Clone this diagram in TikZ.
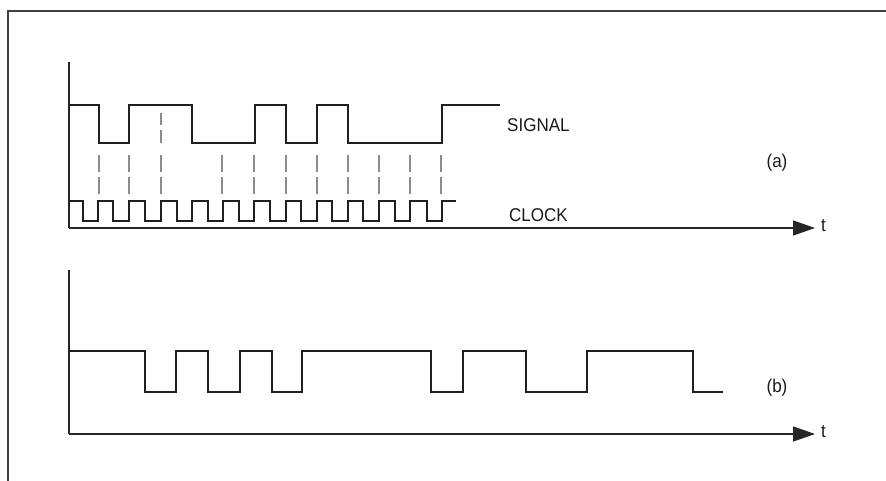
\documentclass[tikz,border=0pt]{standalone}
\usepackage{fontspec}
\setmainfont{Liberation Sans}
\usetikzlibrary{arrows.meta}
\tikzset{
  x=1pt, y=-1pt,
  frameline/.style={line width=1.8pt, draw=black!75},
  axisline/.style={line width=1.4pt, draw=black!85},
  axisarrow/.style={axisline, -{Triangle[length=22pt,width=15pt]}},
  wave/.style={line width=2.2pt, draw=black!88, line join=miter},
  guide/.style={line width=1.8pt, draw=black!45, dash pattern=on 17pt off 5pt},
  guidetop/.style={line width=1.8pt, draw=black!45, dash pattern=on 12.5pt off 5pt},
  lbl/.style={font=\fontsize{18.5}{20}\selectfont, inner sep=0pt, xscale=0.92, text=black!90}
}
\begin{document}
\begin{tikzpicture}
\useasboundingbox (0,0) rectangle (886,481);
\fill[white] (0,0) rectangle (886,481);
% frame
\coordinate (fbl) at (8,481);
\coordinate (ftl) at (8,11);
\coordinate (ftr) at (886,11);
\draw[frameline] (fbl) -- (ftl) -- (ftr);

% ---------- (a) ----------
\coordinate (aytop) at (69,62);
\coordinate (aorig) at (69,228);
\coordinate (atip) at (815,228);
\draw[axisline] (aytop) -- (aorig);
\draw[axisarrow] (aorig) -- (atip);
\node[lbl, anchor=west] (ta) at (821,226) {t};

% dashed guides
\foreach \gx in {99,129,161,222,254,286,317,348,379,410,441}{
  \draw[guide] (\gx,155) -- (\gx,195);
}
\draw[guidetop] (161,113) -- (161,143);

% signal
\draw[wave] (69,105)--(99,105)--(99,143)--(129,143)--(129,105)--(192,105)--(192,143)--(255,143)--(255,105)--(286,105)--(286,143)--(317,143)--(317,105)--(348,105)--(348,143)--(442,143)--(442,105)--(500,105);

% clock
\draw[wave] (69,201)
  \foreach \f/\r in {83/98,113/129,145/161,177/192,208/223,239/254,270/286,301/317,332/348,363/379,395/410,427/442}{
    --(\f,201)--(\f,221)--(\r,221)--(\r,201)
  } --(456,201);

\node[lbl, anchor=west] (sig) at (507,125) {SIGNAL};
\node[lbl, anchor=west] (clk) at (509,215) {CLOCK};
\node[lbl] (la) at (777,163) {(a)};

% ---------- (b) ----------
\coordinate (bytop) at (69,270);
\coordinate (borig) at (69,434);
\coordinate (btip) at (815,434);
\draw[axisline] (bytop) -- (borig);
\draw[axisarrow] (borig) -- (btip);
\node[lbl, anchor=west] (tb) at (821,432) {t};

\draw[wave] (69,351)--(145,351)--(145,392)--(176,392)--(176,351)--(208,351)--(208,392)--(240,392)--(240,351)--(272,351)--(272,392)--(302,392)--(302,351)--(431,351)--(431,392)--(463,392)--(463,351)--(526,351)--(526,392)--(587,392)--(587,351)--(693,351)--(693,392)--(723,392);

\node[lbl] (lb) at (777,388) {(b)};
\end{tikzpicture}
\end{document}
